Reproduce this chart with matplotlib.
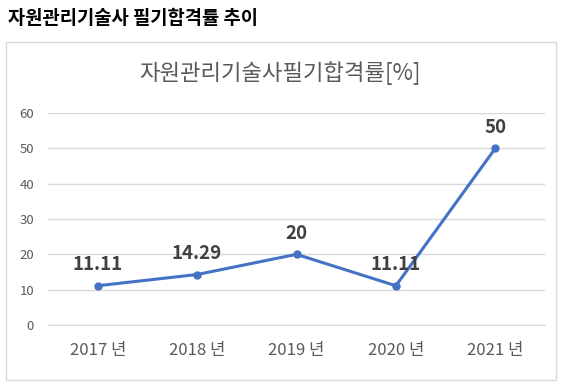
import matplotlib.pyplot as plt
from matplotlib.patches import Rectangle

plt.rcParams['font.family'] = ['Noto Sans CJK KR', 'DejaVu Sans']

years = ['2017 년', '2018 년', '2019 년', '2020 년', '2021 년']
pass_rate = [11.11, 14.29, 20, 11.11, 50]
rate_labels = ['11.11', '14.29', '20', '11.11', '50']

fig = plt.figure(figsize=(5.69, 3.87), dpi=100)

# chart frame
fig.patches.append(Rectangle((6 / 569, 1 - 380 / 387), 550 / 569, 338 / 387,
                             transform=fig.transFigure, fill=False,
                             edgecolor='#d9d9d9', linewidth=1))

fig.text(8 / 569, 1 - 18 / 387, '자원관리기술사 필기합격률 추이',
         fontsize=13.5, fontweight='bold', va='center', ha='left', color='black')
fig.text(280 / 569, 1 - 73 / 387, '자원관리기술사필기합격률[%]',
         fontsize=16, va='center', ha='center', color='#595959')

ax = fig.add_axes([48 / 569, 1 - 325 / 387, 497 / 569, 212 / 387])
x = range(len(years))
ax.plot(x, pass_rate, color='#4472C4', linewidth=2.2, marker='o', markersize=5)

for i, (v, lab) in enumerate(zip(pass_rate, rate_labels)):
    ax.annotate(lab, (i, v), xytext=(0, 15), textcoords='offset points',
                ha='center', va='center', fontsize=13.5, fontweight='bold',
                color='#404040')

ax.set_xlim(-0.5, len(years) - 0.5)
ax.set_ylim(0, 60)
ax.set_yticks(range(0, 61, 10))
ax.set_xticks(list(x))
ax.set_xticklabels(years)
ax.grid(axis='y', color='#d9d9d9', linewidth=1)
ax.set_axisbelow(True)
for s in ['top', 'right', 'left']:
    ax.spines[s].set_visible(False)
ax.spines['bottom'].set_color('#d9d9d9')
ax.tick_params(axis='both', length=0, colors='#595959')
ax.tick_params(axis='y', labelsize=9.5, pad=10)
ax.tick_params(axis='x', labelsize=12, pad=12)

fig.savefig('out.png', dpi=100)
